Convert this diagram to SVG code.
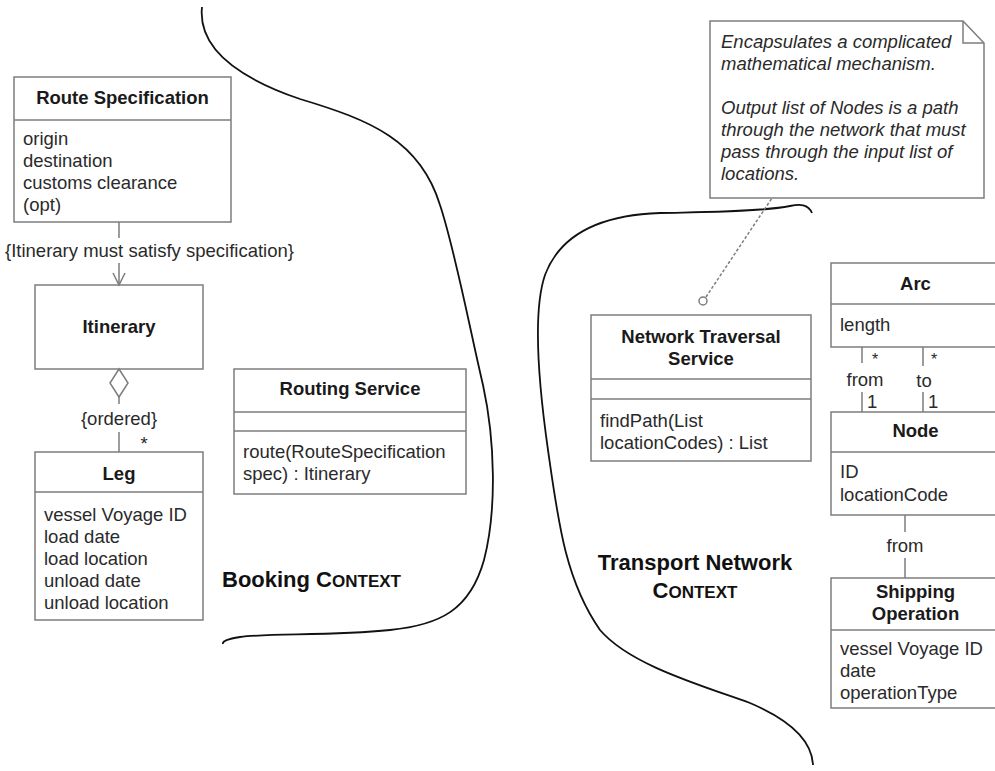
<svg xmlns="http://www.w3.org/2000/svg" width="995" height="771" viewBox="0 0 995 771">
<style>
.box{fill:#fff;stroke:#7d7d7d;stroke-width:1.5}
.ln{fill:none;stroke:#7d7d7d;stroke-width:1.5}
.bd{fill:none;stroke:#111;stroke-width:1.8}
.t{font-family:"Liberation Sans",Arial,sans-serif;font-size:18.5px;fill:#2a2a2a}
.b{font-weight:bold;text-anchor:middle;fill:#1a1a1a}
.m{text-anchor:middle}
.i{font-style:italic}
.st{font-size:16px}
.ctx{font-family:"Liberation Sans",Arial,sans-serif;font-weight:bold;font-size:22px;fill:#111}
.sc{font-size:17px}
</style>
<rect width="995" height="771" fill="#fff"/>

<g id="boundaries">
<path class="bd" d="M202,7 C198,45 230,75 300,99 C370,120 420,140 440,205 C455,250 470,330 483,385 C495,440 497,510 484,560 C470,610 440,625 390,630 C330,636 270,633 240,637 C228,639 222,641 223,644"/>
<path class="bd" d="M812,213 C808,204 800,204 790,206 C760,212 700,212 660,213 C600,215 560,235 545,275 C533,310 538,380 548,450 C558,520 565,580 600,630 C630,665 700,685 750,703 C790,720 812,740 813,765"/>
</g>

<g id="route-specification">
<rect class="box" x="14" y="77" width="217" height="145"/>
<line class="ln" x1="14" y1="120" x2="231" y2="120"/>
<text class="t b" x="122.5" y="104">Route Specification</text>
<text class="t" x="23" y="145">origin</text>
<text class="t" x="23" y="167">destination</text>
<text class="t" x="23" y="189">customs clearance</text>
<text class="t" x="23" y="211">(opt)</text>
</g>

<g id="itinerary">
<rect class="box" x="35" y="285" width="168" height="84"/>
<text class="t b" x="119" y="333">Itinerary</text>
</g>

<g id="leg">
<rect class="box" x="35" y="452" width="168" height="168"/>
<line class="ln" x1="35" y1="492" x2="203" y2="492"/>
<text class="t b" x="119" y="480">Leg</text>
<text class="t" x="44" y="521">vessel Voyage ID</text>
<text class="t" x="44" y="543">load date</text>
<text class="t" x="44" y="565">load location</text>
<text class="t" x="44" y="587">unload date</text>
<text class="t" x="44" y="609">unload location</text>
</g>

<g id="routing-service">
<rect class="box" x="234" y="369" width="232" height="125"/>
<line class="ln" x1="234" y1="412" x2="466" y2="412"/>
<line class="ln" x1="234" y1="431" x2="466" y2="431"/>
<text class="t b" x="350" y="395">Routing Service</text>
<text class="t" x="243" y="458">route(RouteSpecification</text>
<text class="t" x="243" y="480">spec) : Itinerary</text>
</g>

<g id="booking-context-label">
<text class="ctx" x="222" y="587">Booking <tspan>C</tspan><tspan class="sc">ONTEXT</tspan></text>
</g>

<g id="note">
<path class="box" d="M710,21 H963 L984,43 V198 H710 Z"/>
<polyline class="ln" points="963,21 963,43 984,43"/>
<text class="t i" x="721" y="48">Encapsulates a complicated</text>
<text class="t i" x="721" y="70">mathematical mechanism.</text>
<text class="t i" x="721" y="114">Output list of Nodes is a path</text>
<text class="t i" x="721" y="136">through the network that must</text>
<text class="t i" x="721" y="158">pass through the input list of</text>
<text class="t i" x="721" y="180">locations.</text>
</g>

<g id="network-traversal-service">
<rect class="box" x="591" y="315" width="220" height="146"/>
<line class="ln" x1="591" y1="379" x2="811" y2="379"/>
<line class="ln" x1="591" y1="399" x2="811" y2="399"/>
<text class="t b" x="701" y="343">Network Traversal</text>
<text class="t b" x="701" y="365">Service</text>
<text class="t" x="600" y="427">findPath(List</text>
<text class="t" x="600" y="449">locationCodes) : List</text>
</g>

<g id="transport-network-context-label">
<text class="ctx" x="695" y="570" text-anchor="middle">Transport Network</text>
<text class="ctx" x="695" y="598" text-anchor="middle"><tspan>C</tspan><tspan class="sc">ONTEXT</tspan></text>
</g>

<g id="arc">
<rect class="box" x="831" y="263" width="175" height="84"/>
<line class="ln" x1="831" y1="304" x2="1006" y2="304"/>
<text class="t b" x="915.5" y="290">Arc</text>
<text class="t" x="840" y="331">length</text>
</g>

<g id="node">
<rect class="box" x="831" y="412" width="175" height="103"/>
<line class="ln" x1="831" y1="452" x2="1006" y2="452"/>
<text class="t b" x="915.5" y="437">Node</text>
<text class="t" x="840" y="478">ID</text>
<text class="t" x="840" y="501">locationCode</text>
</g>

<g id="shipping-operation">
<rect class="box" x="831" y="578" width="175" height="130"/>
<line class="ln" x1="831" y1="630" x2="1006" y2="630"/>
<text class="t b" x="915.5" y="598">Shipping</text>
<text class="t b" x="915.5" y="620">Operation</text>
<text class="t" x="840" y="655">vessel Voyage ID</text>
<text class="t" x="840" y="677">date</text>
<text class="t" x="840" y="699">operationType</text>
</g>

<g id="connectors">
<line class="ln" x1="119" y1="222" x2="119" y2="238"/>
<line class="ln" x1="119" y1="263" x2="119" y2="285"/>
<polyline class="ln" points="113,273 119,285 125,273"/>
<text class="t" x="5" y="257">{Itinerary must satisfy specification}</text>

<polygon class="box" points="119,369 128,383 119,397 110,383"/>
<line class="ln" x1="119" y1="397" x2="119" y2="404"/>
<line class="ln" x1="119" y1="432" x2="119" y2="452"/>
<text class="t m" x="119" y="425">{ordered}</text>
<text class="t m" x="144" y="450">*</text>

<line class="ln" x1="706" y1="297" x2="772" y2="198" stroke-dasharray="3,2"/>
<circle class="box" cx="703" cy="301" r="4"/>

<line class="ln" x1="862" y1="347" x2="862" y2="363"/>
<line class="ln" x1="862" y1="392" x2="862" y2="412"/>
<line class="ln" x1="923" y1="347" x2="923" y2="366"/>
<line class="ln" x1="923" y1="392" x2="923" y2="412"/>
<text class="t m st" x="875" y="365">*</text>
<text class="t m" x="865" y="386">from</text>
<text class="t" x="867" y="408">1</text>
<text class="t m st" x="934" y="365">*</text>
<text class="t m" x="924" y="387">to</text>
<text class="t" x="928" y="408">1</text>

<line class="ln" x1="905" y1="515" x2="905" y2="532"/>
<line class="ln" x1="905" y1="558" x2="905" y2="578"/>
<text class="t m" x="905" y="552">from</text>
</g>
</svg>
